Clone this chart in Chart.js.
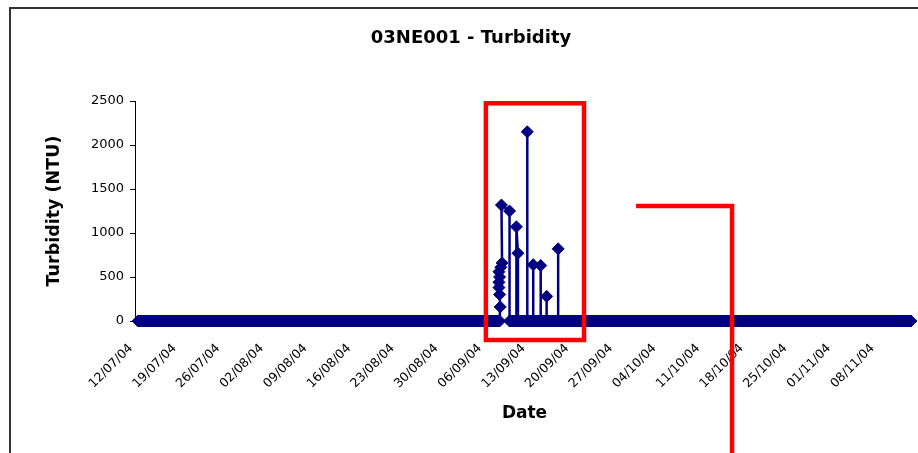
<!DOCTYPE html>
<html>
<head>
<meta charset="utf-8">
<title>03NE001 - Turbidity</title>
<script src="https://cdn.jsdelivr.net/npm/chart.js@4.4.1/dist/chart.umd.min.js"></script>
<style>
    html, body { margin: 0; padding: 0; overflow: hidden; background: #fff; }
    #wrap { position: relative; width: 940px; height: 453px; }
</style>
</head>
<body>
<div id="wrap"><canvas id="chart"></canvas></div>
<script>
// Sampling day, counted in days from 12/07/04 (several readings can share a day).
const sampleDay = [
    0, 1, 2, 3, 4, 5, 6, 7, 8, 9, 10, 11, 12, 13, 14, 15, 16, 17, 18, 19,
    20, 21, 22, 23, 24, 25, 26, 27, 28, 29, 30, 31, 32, 33, 34, 35, 36, 37, 38, 39,
    40, 41, 42, 43, 44, 45, 46, 47, 48, 49, 50, 51, 52, 53, 54, 55, 56, 57,
    58, 58.1, 58.0, 57.9, 57.9, 58.0, 57.9, 58.2, 58.4, 58.3,
    59.6, 59.6, 60, 60.7, 60.7, 60.95, 60.95, 61, 62,
    62.45, 62.45, 62.45, 63, 63.4, 63.4, 63.4, 64, 64.6, 64.6, 64.6, 65,
    65.55, 65.55, 65.55, 66, 67, 67.4, 67.4, 67.4,
    68, 69, 70, 71, 72, 73, 74, 75, 76, 77, 78, 79, 80, 81, 82, 83, 84, 85, 86, 87,
    88, 89, 90, 91, 92, 93, 94, 95, 96, 97, 98, 99, 100, 101, 102, 103, 104, 105, 106, 107,
    108, 109, 110, 111, 112, 113, 114, 115, 116, 117, 118, 119, 120, 121, 122, 123, 124
];

// Turbidity readings (NTU), one per entry of sampleDay.
const turbidity = [
    0, 0, 0, 0, 0, 0, 0, 0, 0, 0, 0, 0, 0, 0, 0, 0, 0, 0, 0, 0,
    0, 0, 0, 0, 0, 0, 0, 0, 0, 0, 0, 0, 0, 0, 0, 0, 0, 0, 0, 0,
    0, 0, 0, 0, 0, 0, 0, 0, 0, 0, 0, 0, 0, 0, 0, 0, 0, 0,
    0, 160, 300, 380, 440, 500, 560, 610, 660, 1318,
    1250, 0, 0, 0, 1070, 770, 0, 0, 0,
    0, 2150, 0, 0, 0, 640, 0, 0, 0, 630, 0, 0,
    0, 280, 0, 0, 0, 0, 820, 0,
    0, 0, 0, 0, 0, 0, 0, 0, 0, 0, 0, 0, 0, 0, 0, 0, 0, 0, 0, 0,
    0, 0, 0, 0, 0, 0, 0, 0, 0, 0, 0, 0, 0, 0, 0, 0, 0, 0, 0, 0,
    0, 0, 0, 0, 0, 0, 0, 0, 0, 0, 0, 0, 0, 0, 0, 0, 0
];

// Weekly date labels on the x axis.
const tickLabels = [
    '12/07/04', '19/07/04', '26/07/04', '02/08/04', '09/08/04', '16/08/04',
    '23/08/04', '30/08/04', '06/09/04', '13/09/04', '20/09/04', '27/09/04',
    '04/10/04', '11/10/04', '18/10/04', '25/10/04', '01/11/04', '08/11/04'
];

const yTicks = [0, 500, 1000, 1500, 2000, 2500];

// Red hand-drawn highlights, in chart units (day, NTU).
const highlightBox = { fromDay: 55.8, toDay: 71.55, top: 2474, bottom: -216 };
const calloutLine = { fromDay: 79.9, toDay: 95.3, level: 1307 };

const navy = '#000080';

// Draws the outer frame and the red highlight marks.
const decorations = {
    id: 'decorations',
    beforeDraw(chart) {
        const ctx = chart.ctx;
        ctx.save();
        ctx.strokeStyle = '#333';
        ctx.lineWidth = 2;
        ctx.strokeRect(10, 8, 920, 470);
        ctx.restore();
    },
    afterDraw(chart) {
        const ctx = chart.ctx;
        const x = chart.scales.x;
        const y = chart.scales.y;
        ctx.save();
        ctx.strokeStyle = '#ff0000';
        ctx.lineWidth = 4.5;
        const left = x.getPixelForValue(highlightBox.fromDay);
        const right = x.getPixelForValue(highlightBox.toDay);
        const top = y.getPixelForValue(highlightBox.top);
        const bottom = y.getPixelForValue(highlightBox.bottom);
        ctx.strokeRect(left, top, right - left, bottom - top);

        const cx0 = x.getPixelForValue(calloutLine.fromDay);
        const cx1 = x.getPixelForValue(calloutLine.toDay);
        const cy = y.getPixelForValue(calloutLine.level);
        ctx.beginPath();
        ctx.moveTo(cx0, cy);
        ctx.lineTo(cx1, cy);
        ctx.lineTo(cx1, chart.height + 10);
        ctx.stroke();
        ctx.restore();
    }
};

const points = sampleDay.map((d, i) => ({ x: d, y: turbidity[i] }));

new Chart(document.getElementById('chart'), {
    type: 'line',
    data: {
        datasets: [{
            label: 'Turbidity',
            data: points,
            borderColor: navy,
            backgroundColor: navy,
            borderWidth: 2.5,
            // the run of zero readings merges into one solid band in the original
            segment: {
                borderWidth: c => (c.p0.parsed.y === 0 && c.p1.parsed.y === 0 ? 12 : 2.5)
            },
            borderCapStyle: 'butt',
            pointStyle: 'rectRot',
            pointRadius: 6,
            pointBorderWidth: 1,
            pointBackgroundColor: navy,
            pointBorderColor: navy,
            tension: 0,
            clip: false
        }]
    },
    options: {
        responsive: true,
        maintainAspectRatio: false,
        animation: false,
        layout: { padding: { left: 28, right: 26, top: 0, bottom: 0 } },
        plugins: {
            legend: { display: false },
            tooltip: { enabled: false },
            title: {
                display: true,
                text: '03NE001 - Turbidity',
                color: '#000',
                font: { family: 'DejaVu Sans', size: 18, weight: 'bold' },
                padding: { top: 28, bottom: 51.4 }
            }
        },
        scales: {
            x: {
                type: 'linear',
                min: -0.5,
                max: 124.5,
                afterFit: s => { s.height = 132; },
                afterBuildTicks: s => {
                    // one tick at the start of each labelled week
                    s.ticks = tickLabels.map((t, i) => ({ value: i * 7 - 1.15 }));
                },
                grid: { display: false, drawTicks: false },
                border: { display: false },
                ticks: {
                    autoSkip: false,
                    minRotation: 45,
                    maxRotation: 45,
                    padding: 20,
                    color: '#000',
                    font: { family: 'DejaVu Sans', size: 12.5 },
                    callback: (v, i) => tickLabels[i]
                },
                title: {
                    display: true,
                    text: 'Date',
                    color: '#000',
                    font: { family: 'DejaVu Sans', size: 17, weight: 'bold' },
                    padding: { top: 0, bottom: 28.8 }
                }
            },
            y: {
                min: 0,
                max: 2500,
                afterFit: s => { s.width = 107; },
                afterBuildTicks: s => { s.ticks = yTicks.map(v => ({ value: v })); },
                grid: { drawOnChartArea: false, drawTicks: true, tickLength: 5, color: '#000' },
                border: { display: true, color: '#000', width: 1 },
                ticks: {
                    padding: 6,
                    color: '#000',
                    font: { family: 'DejaVu Sans', size: 13 },
                    callback: v => String(v)
                },
                title: {
                    display: true,
                    text: 'Turbidity (NTU)',
                    color: '#000',
                    font: { family: 'DejaVu Sans', size: 17.5, weight: 'bold' },
                    padding: { top: 16, bottom: 0 }
                }
            }
        }
    },
    plugins: [decorations]
});
</script>
</body>
</html>
